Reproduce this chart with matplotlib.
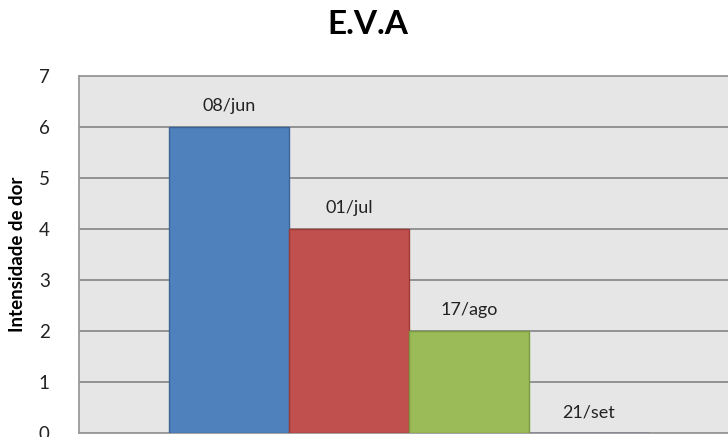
import matplotlib.pyplot as plt

# pain scale readings per visit date
datas = ['08/jun', '01/jul', '17/ago', '21/set']
intensidade = [6, 4, 2, 0]
cores = ['#4f81bd', '#c0504d', '#9bbb59', '#8064a2']
bordas = ['#3a6496', '#9c3b38', '#7a9a41', '#5f4a80']

plt.rcParams['font.family'] = ['Lato', 'DejaVu Sans']

fig = plt.figure(figsize=(7.28, 4.37), dpi=100)
ax = fig.add_axes([79 / 728, 4 / 437, 660 / 728, 357 / 437])
ax.set_facecolor('#e6e6e6')

x = list(range(len(datas)))
bars = ax.bar(x, intensidade, width=1.0, color=cores, edgecolor=bordas,
              linewidth=1.0, zorder=3)

for xi, v, lab in zip(x, intensidade, datas):
    ax.annotate(lab, (xi, v), xytext=(0, 9), textcoords='offset points',
                ha='center', va='bottom', fontsize=13, color='#222222')

ax.set_xlim(-1.25, 4.25)
ax.set_ylim(0, 7)
ax.set_yticks(range(8))
ax.set_xticks([])
ax.yaxis.grid(True, color='#8c8c8c', linewidth=1.3, zorder=0)
ax.tick_params(axis='y', length=0, pad=21, labelsize=13.5, labelcolor='#222222')
for s in ax.spines.values():
    s.set_color('#9a9a9a')
    s.set_linewidth(1.3)

ax.set_ylabel('Intensidade de dor', fontsize=13.5, fontweight='bold')
ax.yaxis.set_label_coords(-0.08, 0.5)
fig.text(368 / 728, 1 - 25 / 437, 'E.V.A', ha='center', va='center',
         fontsize=24, fontweight='bold')

fig.savefig('out.png', dpi=100)
